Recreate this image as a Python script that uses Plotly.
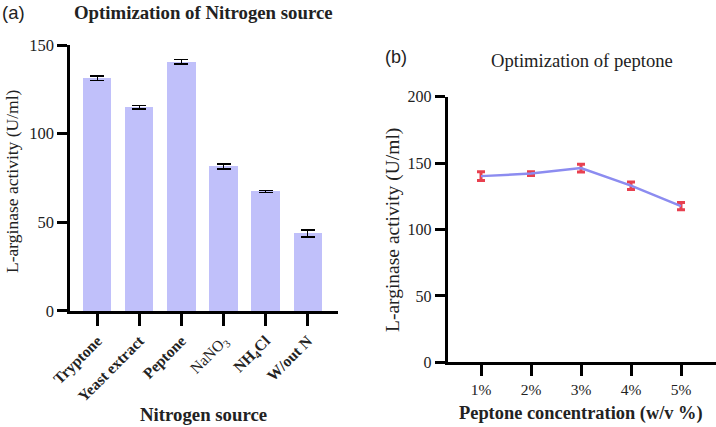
import plotly.graph_objects as go

# Panel (a) data
sources = ["Tryptone", "Yeast extract", "Peptone", "NaNO3", "NH4Cl", "W/out N"]
source_labels = ["<b>Tryptone</b>", "<b>Yeast extract</b>", "<b>Peptone</b>",
                 "NaNO<sub>3</sub>", "<b>NH<sub>4</sub>Cl</b>", "<b>W/out N</b>"]
activity_a = [131.3, 114.9, 140.6, 81.6, 67.4, 43.8]
err_a = [1.2, 0.9, 1.2, 1.4, 0.6, 2.0]

# Panel (b) data
conc = ["1%", "2%", "3%", "4%", "5%"]
activity_b = [140.2, 142.1, 146.3, 133.0, 117.6]
err_b = [3.3, 1.4, 2.9, 2.8, 2.7]

serif = "Liberation Serif"
sans = "Liberation Sans"

fig = go.Figure()

fig.add_trace(go.Bar(
    x=sources, y=activity_a, width=0.67,
    marker=dict(color="#c0c0fa", line=dict(width=0)),
    error_y=dict(type="data", array=err_a, color="black", thickness=1.5, width=7),
    xaxis="x", yaxis="y", showlegend=False,
))

fig.add_trace(go.Scatter(
    x=conc, y=activity_b, mode="lines",
    line=dict(color="#8c8cf0", width=2.5),
    error_y=dict(type="data", array=err_b, color="#e8404f", thickness=3, width=4),
    xaxis="x2", yaxis="y2", showlegend=False,
))

axis_common = dict(showline=True, linecolor="black", linewidth=2.5, ticks="outside",
                   tickcolor="black", tickwidth=2.5, showgrid=False, zeroline=False,
                   automargin=False)

fig.update_layout(
    width=716, height=427,
    margin=dict(l=0, r=0, t=0, b=0, autoexpand=False),
    plot_bgcolor="white", paper_bgcolor="white",
    bargap=0,
    xaxis=dict(domain=[0.0978, 0.472], anchor="y", range=[-0.65, 5.72],
               tickmode="array", tickvals=sources, ticktext=source_labels,
               tickangle=-45, ticklen=12,
               tickfont=dict(family=serif, size=15.5, color="#222"), **axis_common),
    yaxis=dict(domain=[0.2717, 0.8946], anchor="x", range=[0, 150],
               tickvals=[0, 50, 100, 150], ticklen=10,
               tickfont=dict(family=serif, size=16.5, color="#222"), **axis_common),
    xaxis2=dict(domain=[0.625, 1.0], anchor="y2", range=[-0.67, 4.7],
                ticklen=11, tickfont=dict(family=serif, size=15.5, color="#222"), **axis_common),
    yaxis2=dict(domain=[0.1515, 0.7735], anchor="x2", range=[0, 200],
                tickvals=[0, 50, 100, 150, 200], ticklen=10,
                tickfont=dict(family=serif, size=16, color="#222"), **axis_common),
)

ann = [
    dict(text="(a)", x=0, y=12, xanchor="left", font=dict(family=sans, size=18.5)),
    dict(text="<b>Optimization of Nitrogen source</b>", x=204, y=12,
         font=dict(family=serif, size=18.8)),
    dict(text="L-arginase activity (U/ml)", x=12, y=181, textangle=-90,
         font=dict(family=serif, size=17.5)),
    dict(text="<b>Nitrogen source</b>", x=203, y=414, font=dict(family=serif, size=18.8)),
    dict(text="(b)", x=383, y=57, xanchor="left", font=dict(family=sans, size=18)),
    dict(text="Optimization of peptone", x=582, y=61, font=dict(family=serif, size=18.6)),
    dict(text="L-arginase activity (U/ml)", x=393, y=230, textangle=-90,
         font=dict(family=serif, size=19.5)),
    dict(text="<b>Peptone concentration (w/v %)</b>", x=581, y=413,
         font=dict(family=serif, size=18.4)),
]
for a in ann:
    a.update(xref="paper", yref="paper", showarrow=False)
    a["x"] = a["x"] / 716
    a["y"] = 1 - a["y"] / 427
    a.setdefault("xanchor", "center")
    a["yanchor"] = "middle"
    a["font"].setdefault("color", "#222")
fig.update_layout(annotations=ann)

fig.write_html("out.html")
